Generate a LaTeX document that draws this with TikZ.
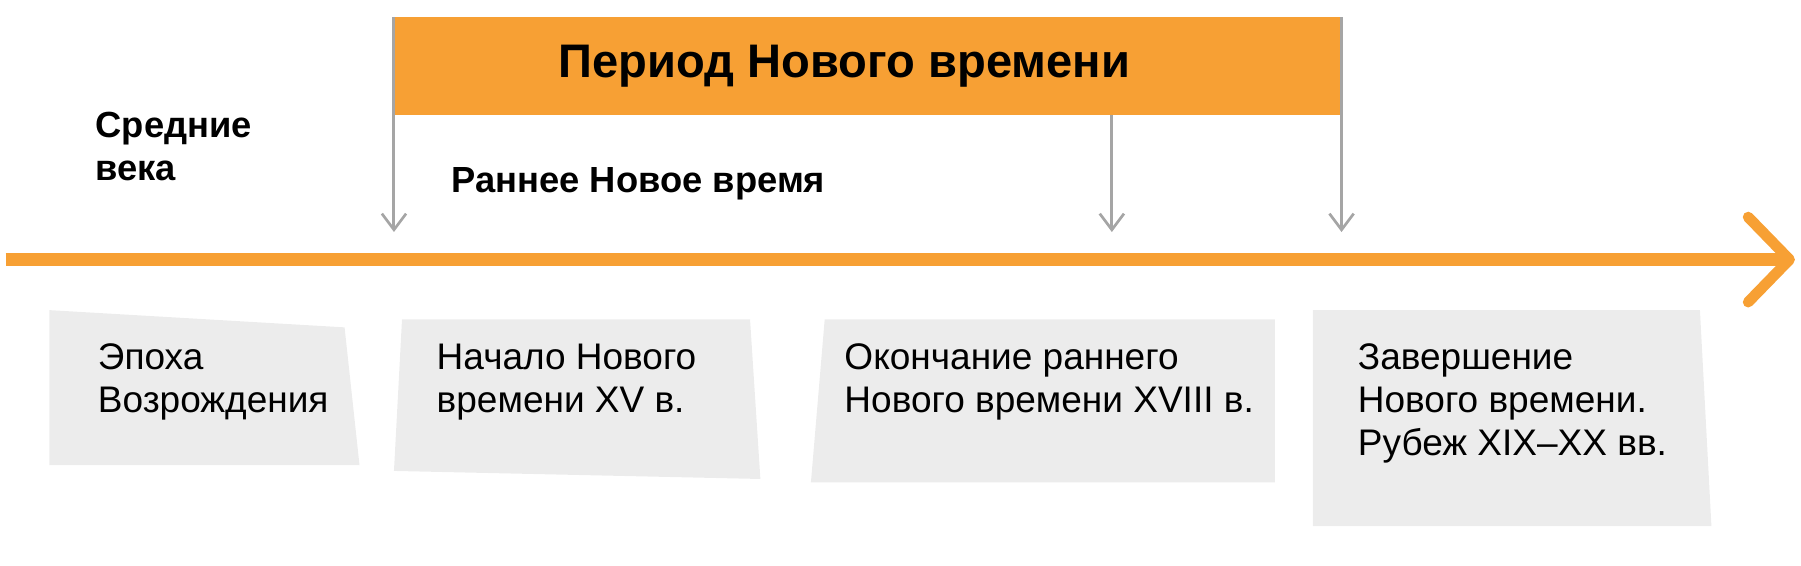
\documentclass[tikz,border=0pt]{standalone}
\usepackage{fontspec}
\setmainfont{Liberation Sans}
\definecolor{tl_orange}{RGB}{247, 160, 52}
\definecolor{tl_gray}{RGB}{165, 165, 165}
\definecolor{tl_box}{RGB}{236, 236, 236}
\usetikzlibrary{arrows.meta, positioning}

\begin{document}
\begin{tikzpicture}[x=0.03cm, y=-0.03cm,
            lbl/.style={anchor=north west, align=left, inner sep=0pt,
                        font=\fontsize{27.5}{32}\selectfont},
            head/.style={anchor=north west, align=left, inner sep=0pt,
                         font=\bfseries\fontsize{27}{32}\selectfont},
            tick/.style={tl_gray, line width=2.2pt,
                         -{Straight Barb[length=12pt, width=18pt, line width=2pt]}},
            card/.style={fill=tl_box}]
  \useasboundingbox (0,0) rectangle (1568,492);
  % period bar
  \fill[tl_orange] (343,15) rectangle (1168,100);
  \node[font=\bfseries\fontsize{35}{40}\selectfont] (period) at (735,58) {Период Нового времени};
  \coordinate (p1) at (343,15);  \coordinate (q1) at (343,202);
  \coordinate (p2) at (968,100); \coordinate (q2) at (968,202);
  \coordinate (p3) at (1168,15); \coordinate (q3) at (1168,202);
  \draw[tick] (p1) -- (q1);
  \draw[tick] (p2) -- (q2);
  \draw[tick] (p3) -- (q3);
  \node[head] (middle) at (83,97) {Средние\\века};
  \node[head] (early) at (393,146) {Раннее Новое время};
  % time axis
  \coordinate (ax0) at (5,226);
  \coordinate (ax1) at (1558,226);
  \draw[tl_orange, line width=9.5pt] (ax0) -- (ax1);
  \draw[tl_orange, line width=8pt, line cap=round, line join=round]
    (1522,189) -- (ax1) -- (1522,263);
  % cards
  \fill[card] (43,270) -- (300,285) -- (313,405) -- (43,405) -- cycle;
  \fill[card] (350,278) -- (653,278) -- (662,417) -- (343,410) -- cycle;
  \fill[card] (718,278) -- (1110,278) -- (1110,420) -- (706,420) -- cycle;
  \fill[card] (1143,270) -- (1480,270) -- (1490,458) -- (1143,458) -- cycle;
  \node[lbl] (renaissance) at (85,299) {Эпоха\\Возрождения};
  \node[lbl] (start) at (380,299) {Начало Нового\\времени XV в.};
  \node[lbl] (endearly) at (735,299) {Окончание раннего\\Нового времени XVIII в.};
  \node[lbl] (finish) at (1182,299) {Завершение\\Нового времени.\\Рубеж XIX–XX вв.};
\end{tikzpicture}
\end{document}
